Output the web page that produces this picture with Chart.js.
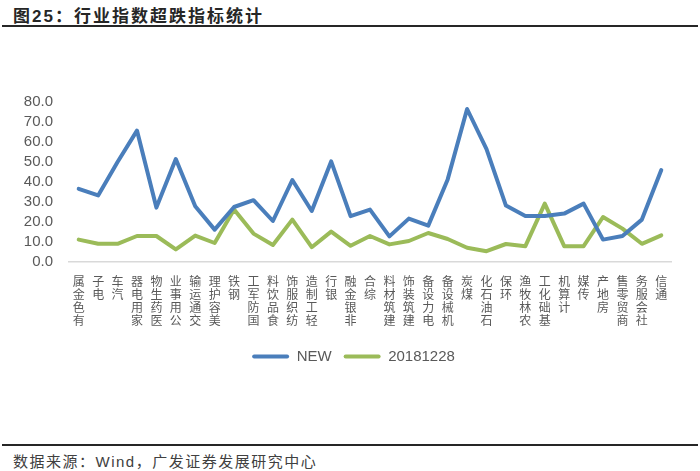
<!DOCTYPE html>
<html>
<head>
<meta charset="utf-8">
<script src="https://cdn.jsdelivr.net/npm/chart.js@4/dist/chart.umd.min.js"></script>
<style>
    body { margin: 0; width: 700px; height: 471px; background: #fff; position: relative; overflow: hidden; }
    .title { position: absolute; left: 13px; top: 2px; font: bold 17px "Liberation Sans", "Noto Sans CJK SC", sans-serif; letter-spacing: 2px; color: #262626; }
    .rule { position: absolute; left: 2px; width: 696px; height: 2px; background: #262626; }
    .source { position: absolute; left: 13px; top: 450px; font: 15px "Liberation Sans", "Noto Sans CJK SC", sans-serif; letter-spacing: 1.5px; color: #404040; }
    #chart-box { position: absolute; left: 0; top: 85px; width: 700px; height: 300px; }
</style>
</head>
<body>
<div class="title">图25：行业指数超跌指标统计</div>
<div class="rule" style="top: 25px;"></div>
<div id="chart-box"><canvas id="chart" width="700" height="300"></canvas></div>
<div class="rule" style="top: 444px; height: 1.5px;"></div>
<div class="source">数据来源：Wind，广发证券发展研究中心</div>

<script>
// --- Data ---
const categories = ['有色金属', '电子', '汽车', '家用电器', '医药生物', '公用事业', '交通运输', '美容护理',
    '钢铁', '国防军工', '食品饮料', '纺织服饰', '轻工制造', '银行', '非银金融', '综合', '建筑材料',
    '建筑装饰', '电力设备', '机械设备', '煤炭', '石油石化', '环保', '农林牧渔', '基础化工', '计算机',
    '传媒', '房地产', '商贸零售', '社会服务', '通信'];
const newValues = [36.6, 33.3, 50.0, 65.7, 27.2, 51.5, 27.9, 16.2, 27.5, 30.9, 20.5, 41.0, 25.5, 50.3,
    22.9, 26.2, 12.8, 21.7, 18.2, 41.3, 76.5, 56.4, 28.2, 23.0, 23.0, 24.2, 29.2, 11.2, 13.0, 21.2, 46.0];
const oldValues = [11.2, 9.1, 9.1, 13.0, 13.0, 6.3, 13.2, 9.5, 26.2, 14.2, 8.5, 21.2, 7.4, 15.2,
    8.1, 13.0, 8.8, 10.5, 14.5, 11.5, 7.1, 5.4, 9.0, 7.9, 29.2, 7.9, 7.9, 22.5, 16.7, 9.1, 13.3];
const seriesNames = ['NEW', '20181228'];
const yMin = 0;
const yMax = 80;
const yStep = 10;

const blue = '#4a7ebb';
const green = '#9bbb59';
const gray = '#595959';

// vertical labels: one character per line, read bottom to top
const xLabels = categories.map(c => c.split('').reverse());

function lineSet(label, data, color) {
    return {
        label: label,
        data: data,
        borderColor: color,
        backgroundColor: color,
        borderWidth: 4,
        tension: 0,
        pointRadius: 0,
        borderJoinStyle: 'round',
        borderCapStyle: 'round'
    };
}

// the original legend sits a bit right of the canvas centre
const legendShift = {
    id: 'legendShift',
    afterLayout(chart) {
        chart.legend.left += 18;
        chart.legend.right += 18;
    }
};

// --- Chart ---
const ctx = document.getElementById('chart').getContext('2d');
const chart = new Chart(ctx, {
    type: 'line',
    data: {
        labels: xLabels,
        datasets: [
            lineSet(seriesNames[0], newValues, blue),
            lineSet(seriesNames[1], oldValues, green)
        ]
    },
    plugins: [legendShift],
    options: {
        responsive: false,
        devicePixelRatio: 1,
        animation: false,
        layout: { padding: { left: 0, right: 29, top: 17, bottom: 11 } },
        scales: {
            x: {
                offset: true,
                grid: { display: false, drawTicks: false },
                border: { display: true, color: '#d9d9d9', width: 1.5 },
                ticks: {
                    autoSkip: false,
                    maxRotation: 0,
                    padding: 13,
                    color: gray,
                    font: { family: '"Noto Sans CJK SC", sans-serif', size: 12, lineHeight: 1.08 }
                },
                afterFit: (scale) => { scale.height = 75; }
            },
            y: {
                min: yMin,
                max: yMax,
                grid: { display: false, drawTicks: false },
                border: { display: false },
                ticks: {
                    autoSkip: false,
                    stepSize: yStep,
                    padding: 16,
                    color: gray,
                    font: { family: '"Liberation Sans", Arial, sans-serif', size: 15 },
                    callback: (v) => v.toFixed(1)
                },
                afterFit: (scale) => {
                    scale.width = 69;
                    // tick padding would otherwise push the plot top down
                    scale.paddingTop = 0;
                    scale.paddingBottom = 0;
                }
            }
        },
        plugins: {
            tooltip: { enabled: false },
            legend: {
                position: 'bottom',
                labels: {
                    boxWidth: 37,
                    boxHeight: 4,
                    padding: 12,
                    color: gray,
                    font: { family: '"Liberation Sans", Arial, sans-serif', size: 15 },
                    generateLabels: (c) => c.data.datasets.map((ds, i) => ({
                        text: ds.label,
                        fillStyle: ds.borderColor,
                        strokeStyle: ds.borderColor,
                        lineWidth: 0,
                        borderRadius: 2,
                        fontColor: gray,
                        datasetIndex: i
                    }))
                }
            }
        }
    }
});
</script>
</body>
</html>
